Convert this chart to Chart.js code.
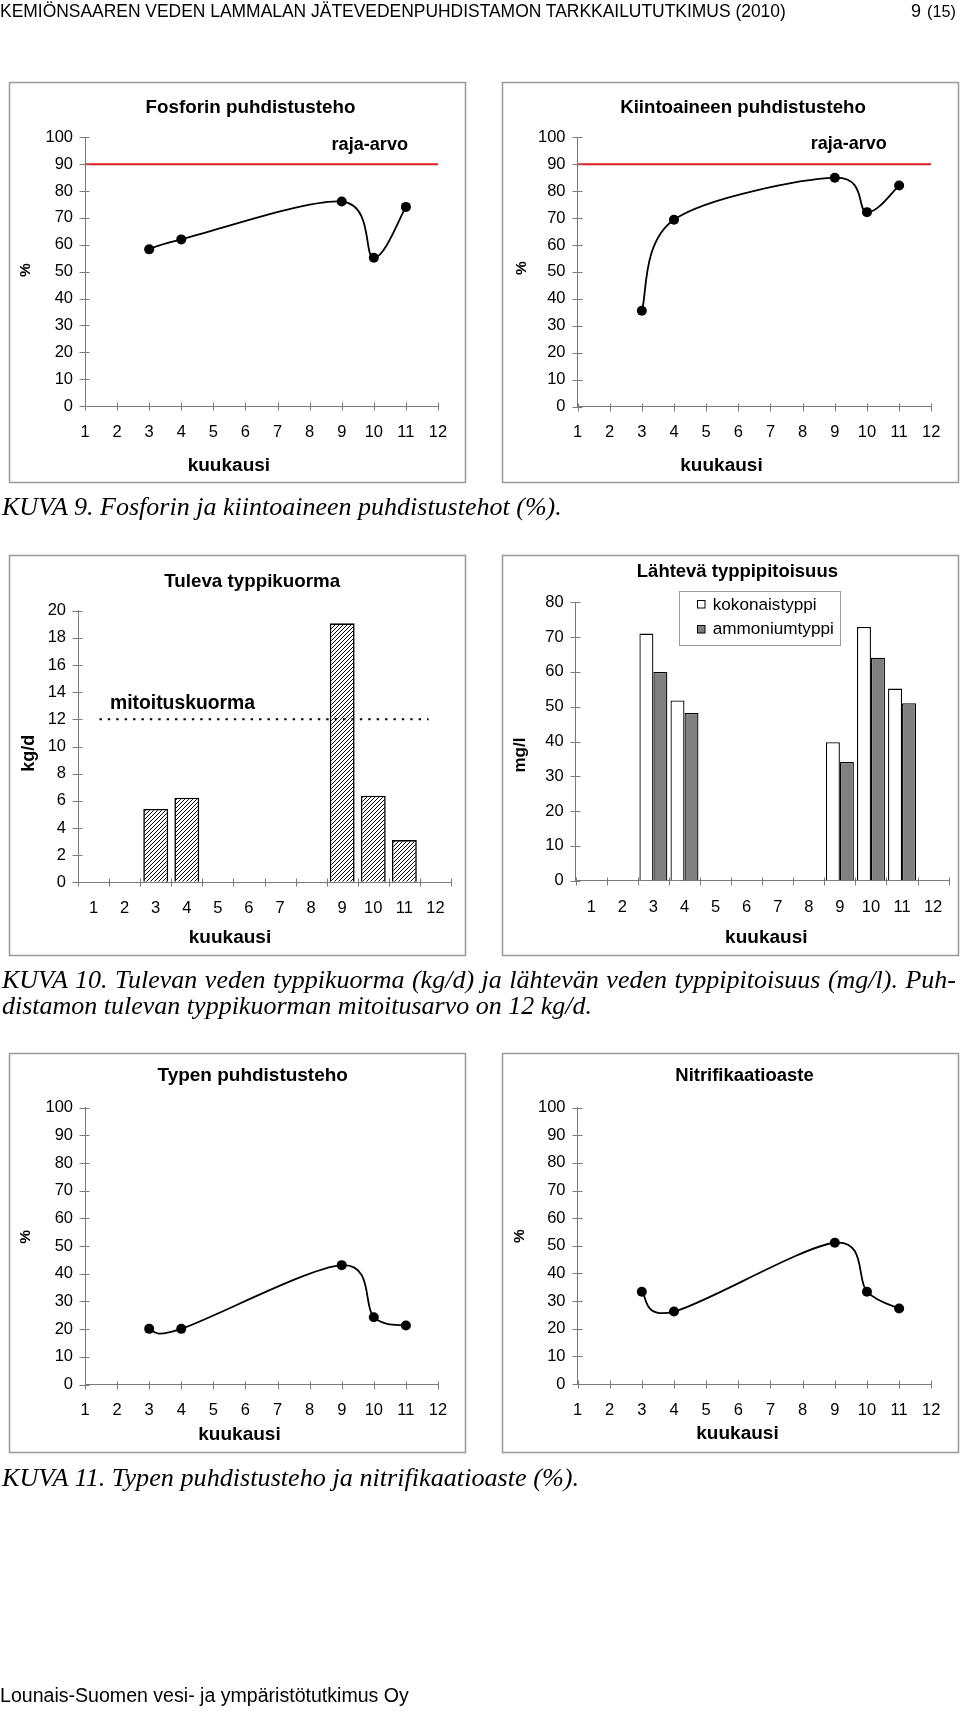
<!DOCTYPE html>
<html><head><meta charset="utf-8">
<script src="https://cdn.jsdelivr.net/npm/chart.js@4.4.1/dist/chart.umd.min.js"></script>
<style>
html,body{margin:0;padding:0;background:#fff}
body{position:relative;width:960px;height:1711px;overflow:hidden}
canvas.ch{position:absolute}
#ov{position:absolute;left:0;top:0;width:960px;height:1711px;pointer-events:none}
</style></head><body>
<canvas class="ch" id="c1"></canvas>
<canvas class="ch" id="c2"></canvas>
<canvas class="ch" id="c3"></canvas>
<canvas class="ch" id="c4"></canvas>
<canvas class="ch" id="c5"></canvas>
<canvas class="ch" id="c6"></canvas>
<svg id="ov" xmlns="http://www.w3.org/2000/svg" width="960" height="1711"></svg>
<script>
// ---------------- DATA ----------------
const monthLabels = ['1','2','3','4','5','6','7','8','9','10','11','12'];
const measuredMonths = [3, 4, 9, 10, 11];
const fosforValues = [58.3, 62.0, 76.1, 55.2, 74.1];
const kiintoaineValues = [35.6, 69.4, 85.0, 72.2, 82.1];
const rajaArvo = 90;
const typpikuormaValues = [null, null, 5.4, 6.23, null, null, null, null, 19.07, 6.38, 3.11, null];
const mitoituskuorma = 12;
const kokonaistyppiValues = [null, null, 71.0, 51.8, null, null, null, null, 39.8, 72.9, 55.2, null];
const ammoniumtyppiValues = [null, null, 60.0, 48.2, null, null, null, null, 34.1, 64.1, 51.0, null];
const typenValues = [20.1, 20.1, 43.1, 24.3, 21.3];
const nitrifikaatioValues = [33.4, 26.2, 51.1, 33.4, 27.3];
const seriesNames = ['kokonaistyppi', 'ammoniumtyppi'];

// ---------------- STYLE / LAYOUT ----------------
const SANS = "'Liberation Sans', Arial, Helvetica, sans-serif";
const SERIF = "'Liberation Serif', 'Times New Roman', Times, serif";
const AXIS = '#7a7a7a';
Chart.defaults.font.family = SANS;
Chart.defaults.font.size = 16.5;
Chart.defaults.color = '#000';
Chart.defaults.animation = false;

const YW = 60, XH = 60;
function place(id, box, area) {
  const c = document.getElementById(id);
  c.style.left = box.x + 'px'; c.style.top = box.y + 'px';
  c.style.width = box.w + 'px'; c.style.height = box.h + 'px';
  c.width = box.w; c.height = box.h;
  return {
    left: area.l - box.x - YW,
    top: area.t - box.y,
    right: box.x + box.w - area.r,
    bottom: box.y + box.h - area.b - XH
  };
}

const tickMarks = {
  id: 'tickMarks',
  afterDraw(chart) {
    const ctx = chart.ctx, xs = chart.scales.x, ys = chart.scales.y;
    ctx.save();
    ctx.strokeStyle = AXIS; ctx.lineWidth = 1;
    ctx.beginPath();
    const yb = Math.round(ys.bottom) + 0.5;
    let px = [];
    if (xs.type === 'category') {
      for (let k = 0; k <= xs.ticks.length; k++) px.push(xs.getPixelForValue(k - 0.5));
    } else {
      px = xs.ticks.map((t, i) => xs.getPixelForTick(i));
    }
    px.forEach(p => { const q = Math.round(p) + 0.5; ctx.moveTo(q, yb - 4); ctx.lineTo(q, yb + 4); });
    const xl = Math.round(xs.left) + 0.5;
    ys.ticks.forEach((t, i) => { const q = Math.round(ys.getPixelForTick(i)) + 0.5; ctx.moveTo(xl - 6, q); ctx.lineTo(xl + 4, q); });
    ctx.stroke();
    ctx.restore();
  }
};

// spreadsheet-style smoothing: Catmull-Rom control points (1/6) on the library's point pixels
const sheetSmooth = {
  id: 'sheetSmooth',
  beforeDatasetDraw(chart, args) {
    const meta = args.meta;
    if (meta.type !== 'line' || !meta.dataset || !meta.dataset.options.tension) return;
    const pts = meta.data, n = pts.length;
    for (let i = 0; i < n; i++) {
      const p = pts[i], a = pts[Math.max(i - 1, 0)], b = pts[Math.min(i + 1, n - 1)];
      const dx = (b.x - a.x) / 6, dy = (b.y - a.y) / 6;
      p.cp1x = p.x - dx; p.cp1y = p.y - dy;
      p.cp2x = p.x + dx; p.cp2y = p.y + dy;
    }
    meta.dataset._pointsUpdated = true;
    meta.dataset._path = undefined;
  }
};

const refLine = {
  id: 'refLine',
  afterDatasetsDraw(chart, args, o) {
    if (!o || o.value === undefined) return;
    const ctx = chart.ctx, xs = chart.scales.x, ys = chart.scales.y;
    const y = ys.getPixelForValue(o.value);
    ctx.save();
    ctx.strokeStyle = '#000'; ctx.lineWidth = 2;
    ctx.setLineDash([2.4, 6]);
    ctx.beginPath();
    ctx.moveTo(xs.getPixelForValue(o.from), y);
    ctx.lineTo(xs.getPixelForValue(o.to), y);
    ctx.stroke();
    ctx.restore();
  }
};

function axes(xType, yMax, yStep) {
  const common = {
    grid: { display: true, drawOnChartArea: false, drawTicks: false },
    border: { display: true, color: AXIS, width: 1 }
  };
  const x = Object.assign({
    type: xType,
    afterFit(s) { s.height = XH; },
    ticks: { padding: 16.5, maxRotation: 0, autoSkip: false, font: { size: 16.5 } }
  }, common);
  const y = Object.assign({
    type: 'linear', min: 0, max: yMax,
    afterFit(s) { s.width = YW; },
    ticks: { stepSize: yStep, padding: 12, font: { size: 16.5 } }
  }, common);
  return { x, y };
}

function lineChart(id, box, area, values, limit) {
  const pad = place(id, box, area);
  const ax = axes('linear', 100, 10);
  ax.x.min = 1; ax.x.max = 12;
  ax.x.ticks.stepSize = 1;
  const datasets = [{
    data: measuredMonths.map((m, i) => ({ x: m, y: values[i] })),
    borderColor: '#000', borderWidth: 1.8, tension: 0.4,
    pointRadius: 5, pointBackgroundColor: '#000', pointBorderColor: '#000', pointBorderWidth: 0
  }];
  if (limit !== undefined) {
    datasets.unshift({
      data: [{ x: 1, y: limit }, { x: 12, y: limit }],
      borderColor: '#e01a1a', borderWidth: 2, pointRadius: 0, tension: 0
    });
  }
  return new Chart(document.getElementById(id), {
    type: 'line',
    data: { datasets },
    options: {
      responsive: false, maintainAspectRatio: false,
      layout: { padding: pad },
      plugins: { legend: { display: false }, tooltip: { enabled: false } },
      scales: ax
    },
    plugins: [sheetSmooth, tickMarks]
  });
}

lineChart('c1', { x: 9, y: 82, w: 457, h: 401 }, { l: 85, t: 137.3, r: 438, b: 406 }, fosforValues, rajaArvo);
lineChart('c2', { x: 502, y: 82, w: 457, h: 401 }, { l: 577.5, t: 137.3, r: 931.3, b: 406.5 }, kiintoaineValues, rajaArvo);
lineChart('c5', { x: 9, y: 1053, w: 457, h: 400 }, { l: 85, t: 1107.6, r: 438, b: 1384.5 }, typenValues);
lineChart('c6', { x: 502, y: 1053, w: 457, h: 400 }, { l: 577.5, t: 1107.6, r: 931.3, b: 1384 }, nitrifikaatioValues);

// hatch pattern
function hatch() {
  const n = 4, c = document.createElement('canvas');
  c.width = n; c.height = n;
  const g = c.getContext('2d');
  g.fillStyle = '#fff'; g.fillRect(0, 0, n, n);
  g.strokeStyle = '#000'; g.lineWidth = 1;
  g.beginPath();
  g.moveTo(0, n); g.lineTo(n, 0);
  g.moveTo(-1, 1); g.lineTo(1, -1);
  g.moveTo(n - 1, n + 1); g.lineTo(n + 1, n - 1);
  g.stroke();
  return g.createPattern(c, 'repeat');
}

{
  const pad = place('c3', { x: 9, y: 555, w: 457, h: 401 }, { l: 78, t: 610.7, r: 451, b: 882.3 });
  new Chart(document.getElementById('c3'), {
    type: 'bar',
    data: {
      labels: monthLabels,
      datasets: [{
        data: typpikuormaValues, backgroundColor: hatch(), borderColor: '#000', borderWidth: 1.6,
        barPercentage: 0.8, categoryPercentage: 1
      }]
    },
    options: {
      responsive: false, maintainAspectRatio: false,
      layout: { padding: pad },
      plugins: { legend: { display: false }, tooltip: { enabled: false },
        refLine: { value: mitoituskuorma, from: 0.19, to: 10.78 } },
      scales: axes('category', 20, 2)
    },
    plugins: [tickMarks, refLine]
  });
}
{
  const pad = place('c4', { x: 502, y: 555, w: 457, h: 401 }, { l: 575.7, t: 602.3, r: 954, b: 880.7 });
  new Chart(document.getElementById('c4'), {
    type: 'bar',
    data: {
      labels: monthLabels,
      datasets: [
        { label: seriesNames[0], data: kokonaistyppiValues, backgroundColor: '#fff', borderColor: '#000', borderWidth: 1.3,
          barPercentage: 1, categoryPercentage: 0.9 },
        { label: seriesNames[1], data: ammoniumtyppiValues, backgroundColor: '#808080', borderColor: '#000', borderWidth: 1.3,
          barPercentage: 1, categoryPercentage: 0.9 }
      ]
    },
    options: {
      responsive: false, maintainAspectRatio: false,
      layout: { padding: pad },
      plugins: { legend: { display: false }, tooltip: { enabled: false } },
      scales: axes('category', 80, 10)
    },
    plugins: [tickMarks]
  });
}

// ---------------- TEXT OVERLAY (SVG) ----------------
const NS = 'http://www.w3.org/2000/svg';
const svg = document.getElementById('ov');
function rect(x, y, w, h, fill, stroke, sw) {
  const r = document.createElementNS(NS, 'rect');
  r.setAttribute('x', x); r.setAttribute('y', y); r.setAttribute('width', w); r.setAttribute('height', h);
  r.setAttribute('fill', fill); r.setAttribute('stroke', stroke); r.setAttribute('stroke-width', sw);
  svg.appendChild(r);
}
function txt(o) {
  const el = document.createElementNS(NS, 'text');
  el.textContent = o.text;
  el.setAttribute('font-family', o.family || SANS);
  el.setAttribute('font-weight', o.weight || 'normal');
  el.setAttribute('font-style', o.style || 'normal');
  el.setAttribute('font-size', 20);
  el.setAttribute('fill', '#000');
  svg.appendChild(el);
  let size = o.size || 16;
  if (o.w) size = 20 * o.w / el.getComputedTextLength();
  el.setAttribute('font-size', size.toFixed(2));
  if (o.justify) {
    const l = el.getComputedTextLength();
    const spaces = (o.text.match(/ /g) || []).length;
    el.style.wordSpacing = ((o.justify - l) / spaces).toFixed(3) + 'px';
  }
  el.setAttribute('text-anchor', o.anchor || 'start');
  el.setAttribute('x', o.x); el.setAttribute('y', o.y);
  if (o.rot) {
    el.setAttribute('dominant-baseline', 'central');
    el.setAttribute('transform', 'rotate(-90 ' + o.x + ' ' + o.y + ')');
  }
  return size;
}

// boxes
[[9, 82, 457, 401], [502, 82, 457, 401], [9, 555, 457, 401], [502, 555, 457, 401], [9, 1053, 457, 400], [502, 1053, 457, 400]]
  .forEach(b => rect(b[0] + 0.5, b[1] + 0.5, b[2] - 1, b[3] - 1, 'none', '#9a9a9a', 1.5));

// header / footer
txt({ text: 'KEMIÖNSAAREN VEDEN LAMMALAN JÄTEVEDENPUHDISTAMON TARKKAILUTUTKIMUS (2010)', x: 0, y: 17.3, w: 787 });
txt({ text: '9', x: 911, y: 17, size: 18 });
txt({ text: '(15)', x: 927, y: 17, w: 29 });
txt({ text: 'Lounais-Suomen vesi- ja ympäristötutkimus Oy', x: 0, y: 1702, w: 409 });

// chart titles
txt({ text: 'Fosforin puhdistusteho', x: 250.5, y: 112.7, w: 210, weight: 'bold', anchor: 'middle' });
txt({ text: 'Kiintoaineen puhdistusteho', x: 743, y: 112.7, w: 245.7, weight: 'bold', anchor: 'middle' });
txt({ text: 'Tuleva typpikuorma', x: 252.2, y: 586.7, w: 176, weight: 'bold', anchor: 'middle' });
txt({ text: 'Lähtevä typpipitoisuus', x: 737.4, y: 577.3, w: 201.3, weight: 'bold', anchor: 'middle' });
txt({ text: 'Typen puhdistusteho', x: 252.7, y: 1081, w: 190.5, weight: 'bold', anchor: 'middle' });
txt({ text: 'Nitrifikaatioaste', x: 744.5, y: 1081, w: 138.5, weight: 'bold', anchor: 'middle' });

// annotations
txt({ text: 'raja-arvo', x: 369.8, y: 150.3, w: 76.5, weight: 'bold', anchor: 'middle' });
txt({ text: 'raja-arvo', x: 848.7, y: 149.4, w: 76, weight: 'bold', anchor: 'middle' });
txt({ text: 'mitoituskuorma', x: 110, y: 709.3, w: 145, weight: 'bold' });

// axis titles
[[228.9, 470.7], [721.5, 470.7], [230, 943.3], [766.3, 943.3], [239.5, 1439.5], [737.5, 1438.5]]
  .forEach(p => txt({ text: 'kuukausi', x: p[0], y: p[1], w: 82.5, weight: 'bold', anchor: 'middle' }));
[[24.5, 270], [520, 268], [25, 1236.8], [518.4, 1236]]
  .forEach(p => txt({ text: '%', x: p[0], y: p[1], size: 15.5, weight: 'bold', anchor: 'middle', rot: true }));
txt({ text: 'kg/d', x: 27.6, y: 753.3, w: 36.7, weight: 'bold', anchor: 'middle', rot: true });
txt({ text: 'mg/l', x: 519.6, y: 755, w: 35, weight: 'bold', anchor: 'middle', rot: true });

// legend of Lähtevä typpipitoisuus
rect(679.5, 591.5, 161, 54, '#fff', '#9a9a9a', 1);
rect(697.5, 600.5, 7.5, 7.5, '#fff', '#000', 1);
rect(697.5, 625.5, 7.5, 7.5, '#808080', '#000', 1);
const lgSize = txt({ text: seriesNames[0], x: 712.7, y: 610, w: 104 });
txt({ text: seriesNames[1], x: 712.7, y: 634, size: lgSize });

// captions
txt({ text: 'KUVA 9. Fosforin ja kiintoaineen puhdistustehot (%).', x: 2, y: 515, w: 560, family: SERIF, style: 'italic' });
const capSize = txt({ text: 'distamon tulevan typpikuorman mitoitusarvo on 12 kg/d.', x: 2, y: 1014, w: 590, family: SERIF, style: 'italic' });
txt({ text: 'KUVA 10. Tulevan veden typpikuorma (kg/d) ja lähtevän veden typpipitoisuus (mg/l). Puh-', x: 2, y: 988.3, size: capSize, justify: 954, family: SERIF, style: 'italic' });
txt({ text: 'KUVA 11. Typen puhdistusteho ja nitrifikaatioaste (%).', x: 2, y: 1486.3, w: 577, family: SERIF, style: 'italic' });
</script>
</body></html>
